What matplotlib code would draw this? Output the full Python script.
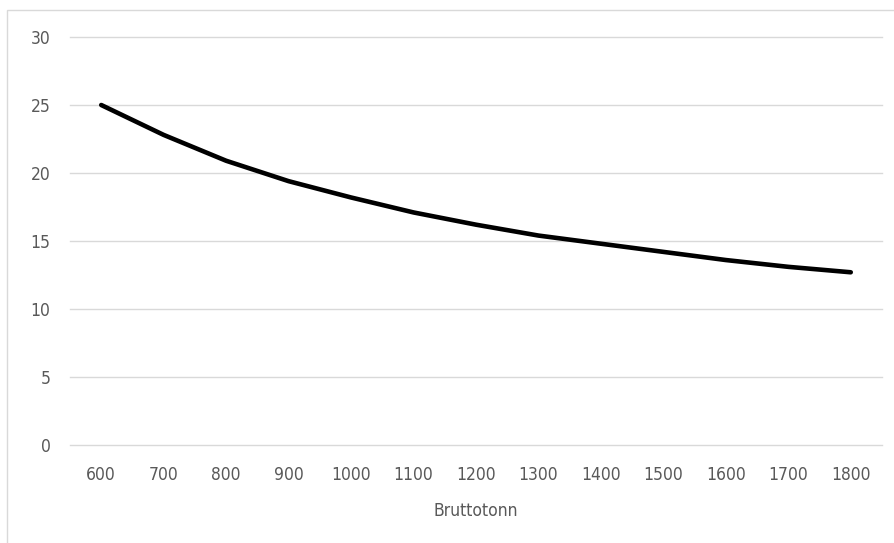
import matplotlib.pyplot as plt
from matplotlib.patches import Rectangle

bruttotonn = ["600", "700", "800", "900", "1000", "1100", "1200",
              "1300", "1400", "1500", "1600", "1700", "1800"]
verdi = [25.0, 22.8, 20.9, 19.4, 18.2, 17.1, 16.2,
         15.4, 14.8, 14.2, 13.6, 13.1, 12.7]
y_ticks = [0, 5, 10, 15, 20, 25, 30]

plt.rcParams['font.family'] = ['DejaVu Sans']
plt.rcParams['font.stretch'] = 'condensed'
grey = "#595959"

fig = plt.figure(figsize=(8.95, 5.43), dpi=100)
ax = fig.add_axes([70 / 895, 1 - 445 / 543, (882 - 70) / 895, (445 - 37) / 543])

x = list(range(len(bruttotonn)))
ax.plot(x, verdi, color="black", linewidth=3.3, solid_capstyle="round",
        solid_joinstyle="round", zorder=3)

ax.set_xlim(-0.5, len(bruttotonn) - 0.5)
ax.set_ylim(0, 30)
ax.set_yticks(y_ticks)
ax.set_xticks(x)
ax.set_xticklabels(bruttotonn)
ax.grid(axis="y", color="#d9d9d9", linewidth=1.0)
for gl in ax.get_ygridlines():
    gl.set_clip_on(False)
ax.set_axisbelow(True)
for s in ax.spines.values():
    s.set_visible(False)
ax.tick_params(length=0, labelsize=12.5, colors=grey, pad=15)
ax.tick_params(axis="y", pad=14)
ax.set_xlabel("Bruttotonn", fontsize=12.5, color=grey, labelpad=13)

# chart area border (partly outside the picture)
fig.patches.append(Rectangle((7.5 / 895, -0.1), 1.2, 1 - 9.5 / 543 + 0.1,
                             transform=fig.transFigure, fill=False,
                             edgecolor="#d9d9d9", linewidth=1.0))

fig.savefig("out.png", dpi=100)
